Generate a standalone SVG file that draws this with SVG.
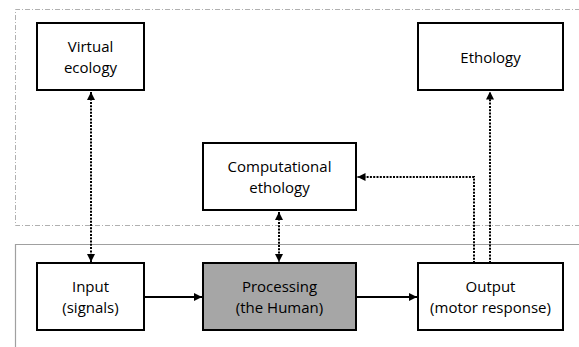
<svg xmlns="http://www.w3.org/2000/svg" width="579" height="347" viewBox="0 0 579 347">
<style>
.box{fill:#fff;stroke:#000;stroke-width:2}
.proc{fill:#a6a6a6;stroke:#000;stroke-width:2}
.t{font-family:"Open Sans","Liberation Sans",sans-serif;font-size:15px;fill:#000;text-anchor:middle}
.dot{fill:none;stroke:#000;stroke-width:2;stroke-dasharray:2 1.3}
.sol{fill:none;stroke:#000;stroke-width:2}
</style>
<defs>
<marker id="ah" viewBox="0 0 10 10" refX="10" refY="5" markerWidth="8" markerHeight="8" markerUnits="userSpaceOnUse" orient="auto-start-reverse">
<path d="M0,0 L10,5 L0,10 z" fill="#000"/>
</marker>
</defs>
<rect width="579" height="347" fill="#fff"/>
<g id="regions">
<path d="M580,9.5 H15.5 V225.5 H580" fill="none" stroke="#b0b0b0" stroke-width="1" stroke-dasharray="5 2 1 2"/>
<path d="M580,244.5 H15.5 V348" fill="none" stroke="#a0a0a0" stroke-width="1.2"/>
</g>
<g id="connectors">
<line class="dot" x1="91" y1="92" x2="91" y2="262" marker-start="url(#ah)" marker-end="url(#ah)"/>
<line class="dot" x1="279" y1="212" x2="279" y2="262" marker-start="url(#ah)" marker-end="url(#ah)"/>
<path class="dot" d="M474,263 V177 H357.5" marker-end="url(#ah)"/>
<line class="dot" x1="490" y1="263" x2="490" y2="91.5" marker-end="url(#ah)"/>
<line class="sol" x1="145" y1="297" x2="202" y2="297" marker-end="url(#ah)"/>
<line class="sol" x1="357" y1="297" x2="417" y2="297" marker-end="url(#ah)"/>
</g>
<g id="virtual-ecology">
<rect class="box" x="37" y="23" width="107" height="67"/>
<text class="t" x="90.5" y="52">Virtual</text>
<text class="t" x="90.5" y="73">ecology</text>
</g>
<g id="ethology">
<rect class="box" x="418" y="23" width="145" height="67"/>
<text class="t" x="490.5" y="63">Ethology</text>
</g>
<g id="computational-ethology">
<rect class="box" x="203" y="143" width="153" height="67"/>
<text class="t" x="279.5" y="172">Computational</text>
<text class="t" x="279.5" y="193">ethology</text>
</g>
<g id="input">
<rect class="box" x="37" y="263" width="107" height="67"/>
<text class="t" x="90.5" y="292">Input</text>
<text class="t" x="90.5" y="313">(signals)</text>
</g>
<g id="processing">
<rect class="proc" x="203" y="263" width="153" height="67"/>
<text class="t" x="279.5" y="292" fill="#222">Processing</text>
<text class="t" x="279.5" y="313" fill="#222">(the Human)</text>
</g>
<g id="output">
<rect class="box" x="418" y="263" width="145" height="67"/>
<text class="t" x="490.5" y="292">Output</text>
<text class="t" x="490.5" y="313">(motor response)</text>
</g>
</svg>
